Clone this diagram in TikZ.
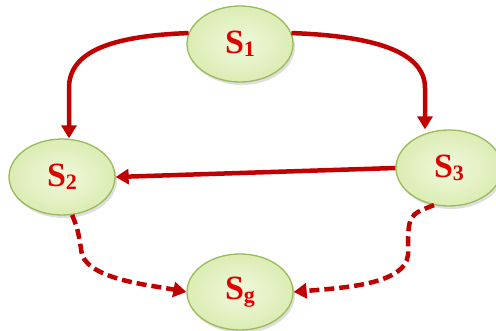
\documentclass[tikz,border=0pt]{standalone}
\usepackage{fontspec}
\setmainfont{Liberation Serif}
\usetikzlibrary{arrows.meta,shapes.geometric,shadows}
\definecolor{edgered}{HTML}{C00000}
\definecolor{txtred}{HTML}{E00000}
\definecolor{fillgreen}{HTML}{E6F5C4}
\definecolor{bordergreen}{HTML}{9BBB59}
\newcommand{\stlabel}[1]{\textbf{S\raisebox{-0.08em}{\fontsize{22}{22}\selectfont #1}}}
\tikzset{
  state/.style={ellipse, draw=bordergreen, line width=1.3pt, inner color=fillgreen!60, outer color=fillgreen!85!bordergreen,
    minimum width=106pt, minimum height=76pt, text=txtred, font=\fontsize{34}{34}\selectfont,
    drop shadow={opacity=0.25, shadow xshift=2pt, shadow yshift=-3pt}},
  link/.style={draw=edgered, line width=4.5pt, -{Triangle[length=13pt,width=15pt]}},
  dlink/.style={link, dash pattern=on 10pt off 5pt}
}
\begin{document}
\begin{tikzpicture}[x=1pt,y=-1pt]
\useasboundingbox (0,0) rectangle (496,331);
\node[state] (s1) at (240,44) {\stlabel{1}};
\node[state] (s2) at (62,177) {\stlabel{2}};
\node[state] (s3) at (449,168) {\stlabel{3}};
\node[state] (sg) at (240,292) {\stlabel{g}};
\coordinate (b12) at (69,88);
\coordinate (b13) at (425,88);
\coordinate (b2g) at (82,255);
\coordinate (b3g) at (408,255);
\draw[link] (s1.168) .. controls (110,36) and (69,52) .. (b12) -- (s2.north -| b12);
\draw[link] (s1.12) .. controls (375,36) and (425,52) .. (b13) -- (s3.north -| b13);
\draw[link] (s3.west) -- (s2.east);
\draw[dlink] (s2.-75) .. controls (78,230) .. (b2g) .. controls (92,280) and (150,285) .. (sg.west);
\draw[dlink] (s3.-112) .. controls (408,215) .. (b3g) .. controls (405,285) and (340,288) .. (sg.east);
\end{tikzpicture}
\end{document}
